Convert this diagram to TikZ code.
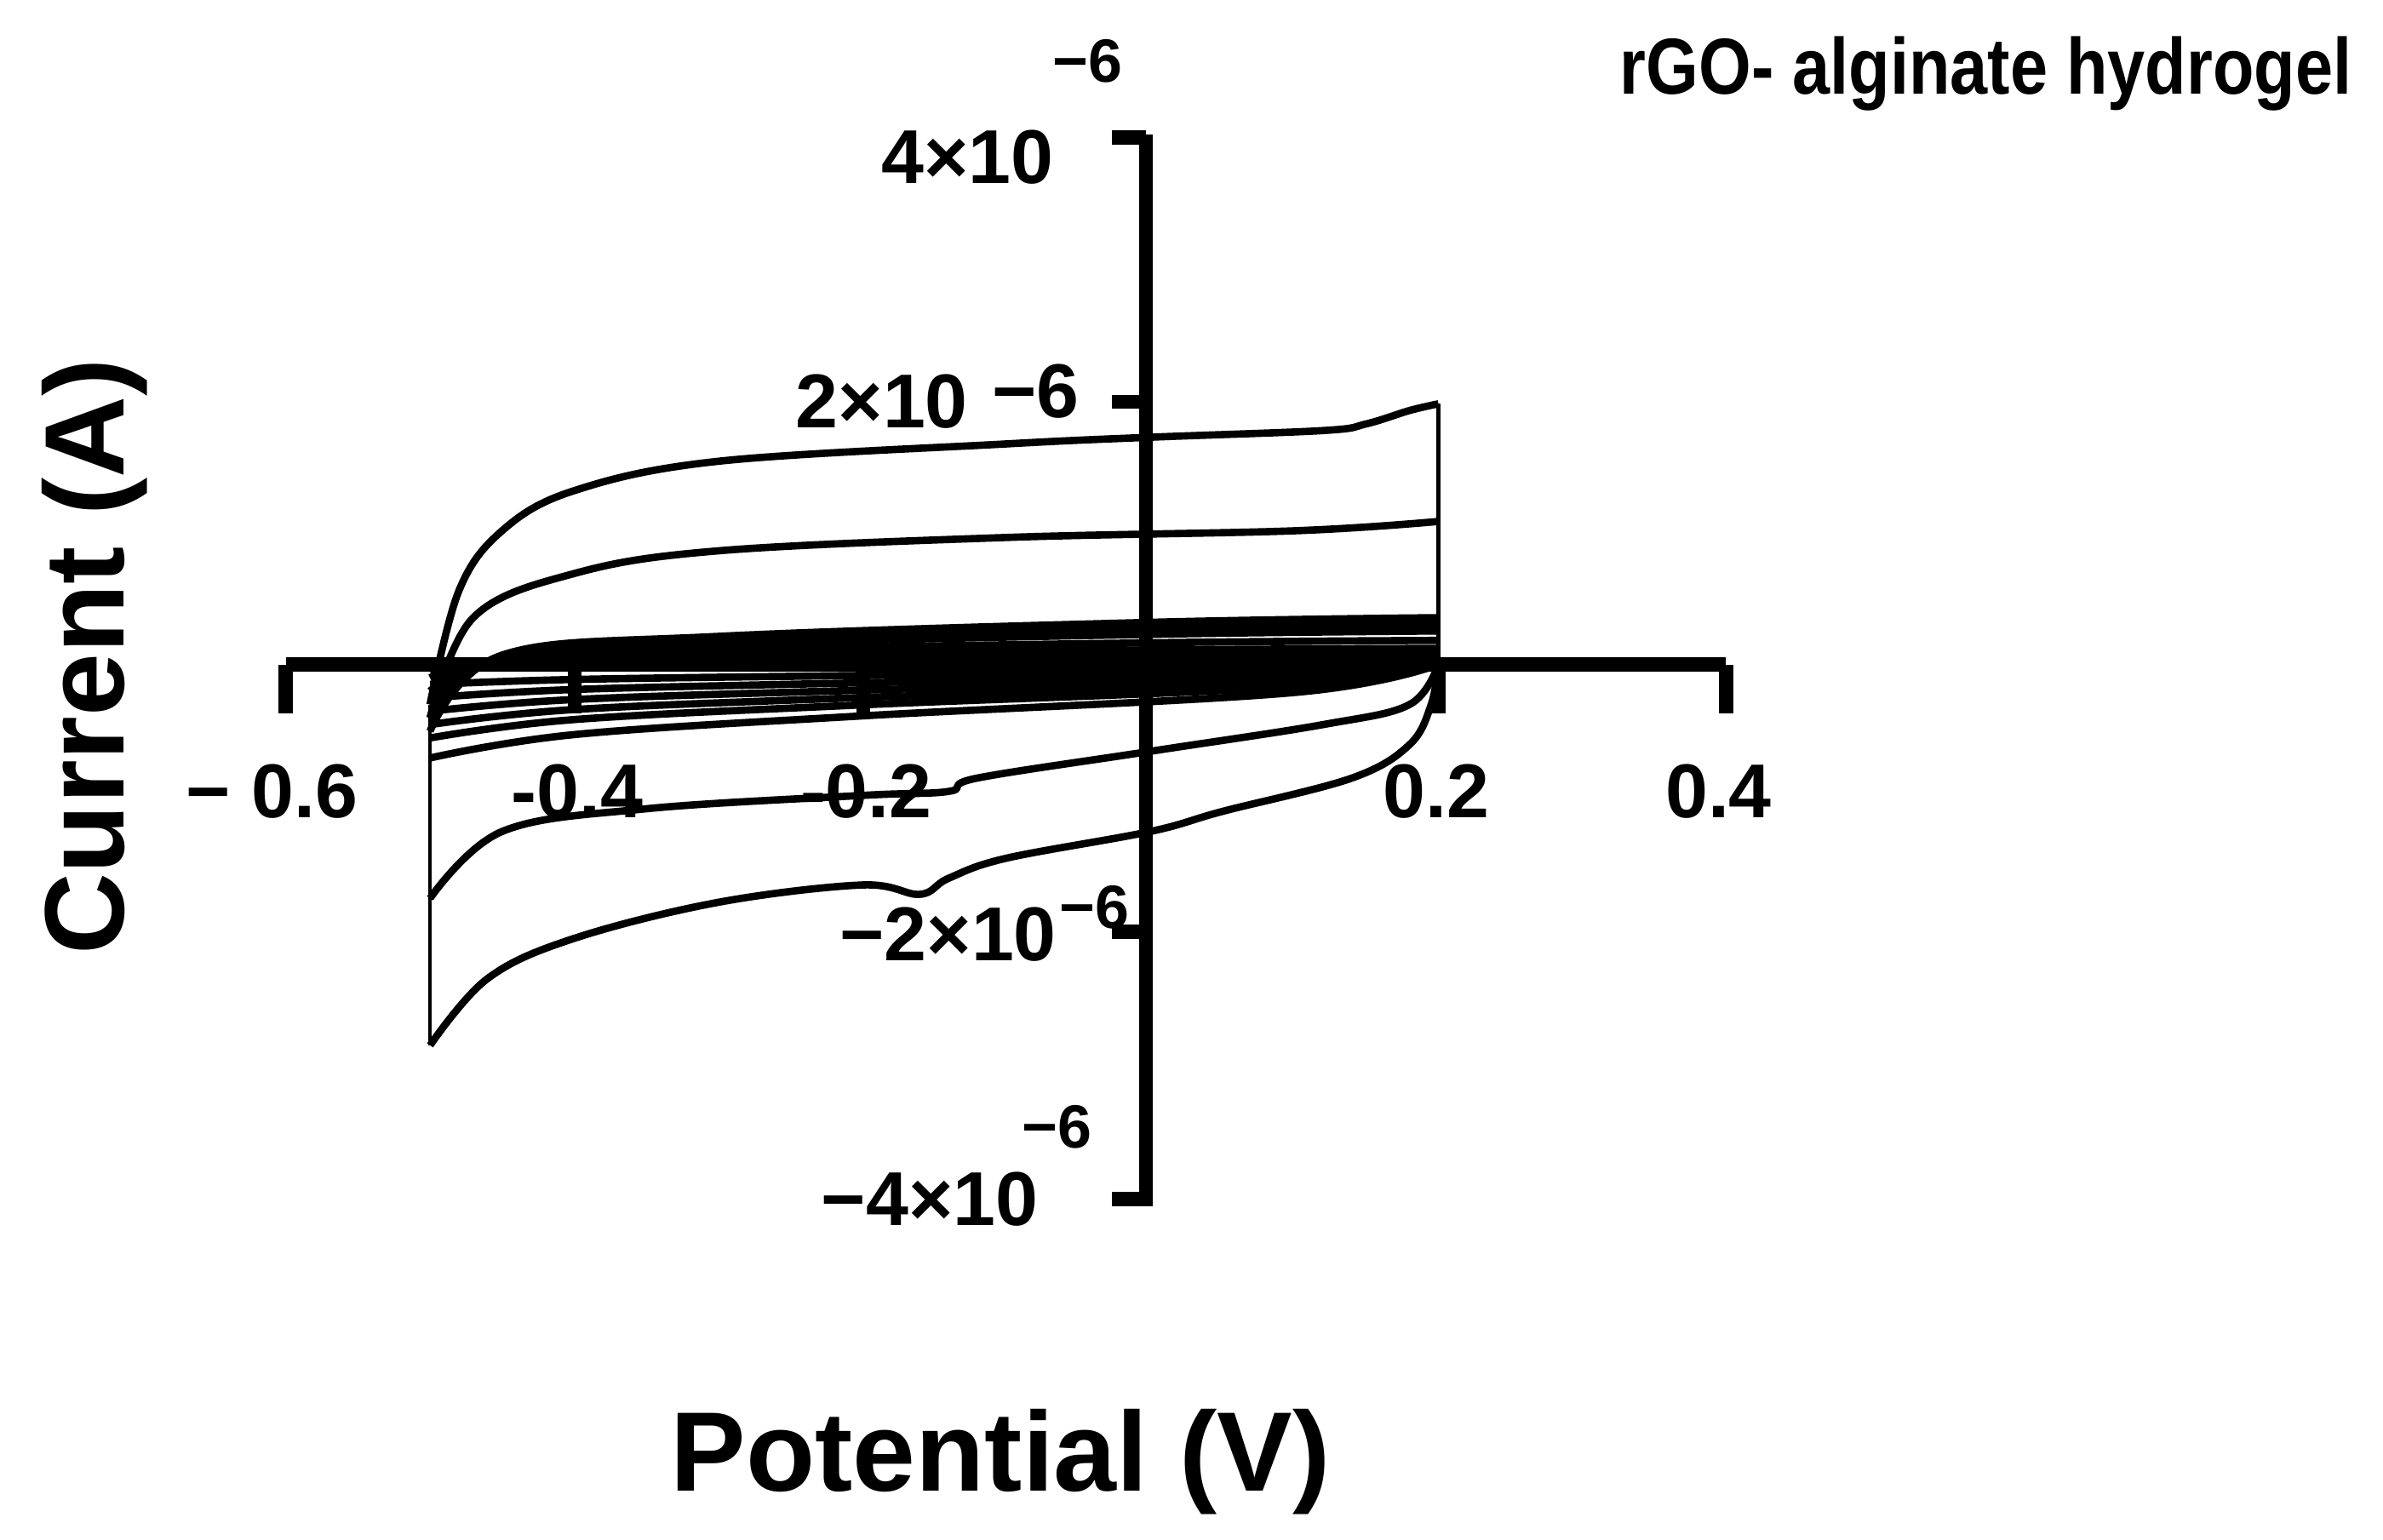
\documentclass[tikz,border=0pt]{standalone}
\usepackage{fontspec}
\setmainfont{Liberation Sans}
\begin{document}
\begin{tikzpicture}[x=0.5pt,y=-0.5pt,
  ax/.style={line width=4.5pt},
  cv/.style={line width=2.4pt,line join=round},
  cvt/.style={line width=1.2pt},
  lbl/.style={font=\bfseries\fontsize{25}{28}\selectfont,inner sep=0pt},
  sup/.style={font=\bfseries\fontsize{20}{22}\selectfont,inner sep=0pt},
  big/.style={font=\bfseries\fontsize{37}{40}\selectfont,inner sep=0pt}]
\useasboundingbox (0,0) rectangle (1560,1008);
% axes
\draw[ax] (187,435) coordinate (xl) -- (1130,435) coordinate (xr);
\foreach \x in {187,376,565,942,1130} \draw[ax] (\x,435) -- (\x,467);
\draw[ax] (750,88) -- (750,790);
\foreach \y in {90,263,610,785} \draw[ax] (750,\y) -- (728,\y);
% curves
\begin{scope}[shift={(753,435)},x=471.5pt,y=43.75pt]
\draw[cv] plot[smooth,tension=0.6] coordinates {(-0.5,-0.3) (-0.48,0.55) (-0.45,1.0) (-0.4,1.3) (-0.3,1.52) (-0.1,1.65) (0,1.7) (0.12,1.75) (0.15,1.8) (0.18,1.9) (0.2,1.95)};
\draw[cvt] (0.2,1.95) -- (0.2,0);
\draw[cv] plot[smooth,tension=0.6] coordinates {(0.2,0) (0.195,-0.3) (0.18,-0.6) (0.14,-0.85) (0.05,-1.1) (0,-1.25) (-0.1,-1.45) (-0.14,-1.6) (-0.16,-1.72) (-0.2,-1.65) (-0.3,-1.78) (-0.4,-2.05) (-0.46,-2.35) (-0.5,-2.85)};
\draw[cvt] (-0.5,-2.85) -- (-0.5,-0.3);
\draw[cv] plot[smooth,tension=0.6] coordinates {(-0.5,-0.4) (-0.47,0.35) (-0.4,0.68) (-0.3,0.85) (-0.1,0.95) (0.1,1.0) (0.2,1.07)};
\draw[cv] plot[smooth,tension=0.6] coordinates {(0.2,0) (0.18,-0.3) (0.12,-0.45) (0,-0.65) (-0.12,-0.85) (-0.14,-0.95) (-0.2,-0.98) (-0.35,-1.08) (-0.45,-1.25) (-0.5,-1.75)};
\foreach \a/\b/\c in {0.35/-0.7/-0.5,0.3/-0.55/-0.4,0.25/-0.45/-0.3,0.18/-0.35/-0.2,0.12/-0.25/-0.1,0.08/-0.15/-0.05}{
 \draw[cv] plot[smooth,tension=0.6] coordinates {(-0.5,\c) (-0.45,\a*0.2) (-0.3,\a*0.6) (0,\a*0.9) (0.2,\a)};
 \draw[cv] plot[smooth,tension=0.6] coordinates {(0.2,0) (0.1,\b*0.3) (-0.2,\b*0.55) (-0.4,\b*0.75) (-0.5,\b)};
}
\end{scope}
% labels
\node[lbl,anchor=east] (t4) at (690,103) {4×10};
\node[sup] (t4s) at (712,40) {−6};
\node[lbl,anchor=east] (t2) at (634,263) {2×10};
\node[lbl] (t2s) at (678,256) {−6};
\node[lbl,anchor=east] (tm2) at (692,612) {−2×10};
\node[sup,anchor=west] (tm2s) at (693,594) {−6};
\node[lbl,anchor=east] (tm4) at (680,785) {−4×10};
\node[sup] (tm4s) at (692,738) {−6};
\node[lbl] (xm6) at (178,518) {− 0.6};
\node[lbl] (xm4) at (378,518) {-0.4};
\node[lbl] (xm2) at (567,518) {-0.2};
\node[lbl] (x2) at (940,518) {0.2};
\node[lbl] (x4) at (1125,518) {0.4};
\node[big,rotate=90] (yl) at (62,430) {Current (A)};
\node[big] (xlab) at (655,957) {Potential (V)};
\node[font=\bfseries\fontsize{26}{28}\selectfont,inner sep=0pt,xscale=0.85] (title) at (1300,48) {rGO- alginate hydrogel};
\end{tikzpicture}
\end{document}
